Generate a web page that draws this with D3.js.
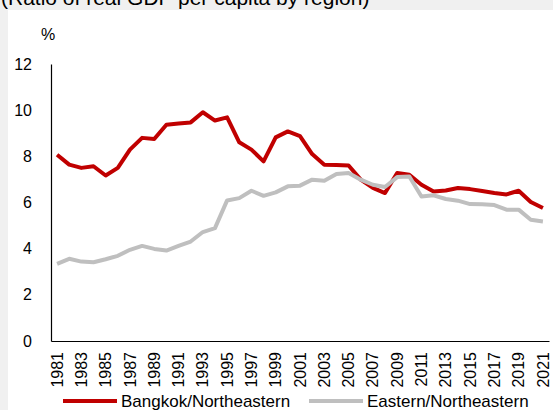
<!DOCTYPE html>
<html>
<head>
<meta charset="utf-8">
<script src="https://cdn.jsdelivr.net/npm/d3@7"></script>
<style>
  body { margin: 0; background: #f0f0f0; }
  svg { display: block; font-family: "Liberation Sans", Arial, sans-serif; }
</style>
</head>
<body>
<div id="chart"></div>
<script>
'use strict';

// data
var years = d3.range(1981, 2022);
var bangkok = [8.07, 7.64, 7.5, 7.57, 7.17, 7.5, 8.29, 8.8, 8.75, 9.37,
  9.42, 9.47, 9.91, 9.55, 9.69, 8.61, 8.29, 7.78, 8.82, 9.08,
  8.88, 8.1, 7.64, 7.62, 7.6, 6.99, 6.63, 6.41, 7.28, 7.2,
  6.77, 6.48, 6.52, 6.63, 6.58, 6.5, 6.41, 6.35, 6.51, 6.02, 5.76];
var eastern = [3.34, 3.56, 3.44, 3.41, 3.54, 3.69, 3.95, 4.12, 3.99, 3.92,
  4.12, 4.31, 4.72, 4.89, 6.09, 6.19, 6.51, 6.29, 6.44, 6.7,
  6.73, 6.99, 6.94, 7.23, 7.28, 6.99, 6.77, 6.67, 7.1, 7.13,
  6.26, 6.31, 6.15, 6.08, 5.93, 5.92, 5.89, 5.69, 5.69, 5.25, 5.18];
var yTicks = [0, 2, 4, 6, 8, 10, 12];
var seriesNames = ["Bangkok/Northeastern", "Eastern/Northeastern"];
var seriesColors = ["#c00000", "#bfbfbf"];

var W = 553, H = 410;
var margin = {top: 64, right: 4, bottom: 69, left: 51},
    width = W - margin.left - margin.right,
    height = H - margin.top - margin.bottom;

var svg = d3.select("#chart")
  .append("svg")
    .attr("width", W)
    .attr("height", H);

// grey frame with the clipped subtitle above the white panel
svg.append("rect")
  .attr("x", 8).attr("y", 10)
  .attr("width", W - 8).attr("height", H - 10)
  .attr("fill", "#fff");
svg.append("text")
  .attr("x", 1).attr("y", 5)
  .attr("font-size", 21)
  .attr("fill", "#000")
  .text("(Ratio of real GDP per capita by region)");

var g = svg.append("g")
  .attr("transform", "translate(" + margin.left + "," + margin.top + ")");

var x = d3.scaleBand()
  .domain(years)
  .range([0, width])
  .padding(0);

var y = d3.scaleLinear()
  .domain([0, 12])
  .range([height, 0]);

// Y axis
var yAxis = g.append("g")
  .call(d3.axisLeft(y).tickValues(yTicks).tickSize(0).tickPadding(19));
yAxis.select(".domain").attr("stroke", "#000").attr("stroke-width", 1.2);
yAxis.selectAll("text").attr("font-size", 16).attr("fill", "#000")
  .attr("font-family", "Liberation Sans, Arial, sans-serif");

g.append("text")
  .attr("x", -10).attr("y", -24)
  .attr("font-size", 16)
  .text("%");

// X axis
var xAxis = g.append("g")
  .attr("transform", "translate(0," + height + ")")
  .call(d3.axisBottom(x).tickSize(0)
    .tickFormat(function(d) { return (d - 1981) % 2 === 0 ? d : ""; }));
xAxis.select(".domain").attr("stroke", "#000").attr("stroke-width", 1.2);
xAxis.selectAll("text")
  .attr("font-size", 16)
  .attr("fill", "#000")
  .attr("font-family", "Liberation Sans, Arial, sans-serif")
  .attr("transform", "rotate(-90)")
  .attr("text-anchor", "end")
  .attr("x", -11)
  .attr("y", 0)
  .attr("dy", "0.35em");

// lines
var line = d3.line()
  .x(function(d, i) { return x(years[i]) + x.bandwidth() / 2; })
  .y(function(d) { return y(d); });

[bangkok, eastern].forEach(function(s, i) {
  g.append("path")
    .datum(s)
    .attr("fill", "none")
    .attr("stroke", seriesColors[i])
    .attr("stroke-width", 4)
    .attr("stroke-linejoin", "round")
    .attr("d", line);
});

// legend
var legendX = [63, 309];
seriesNames.forEach(function(name, i) {
  var lg = svg.append("g")
    .attr("transform", "translate(" + legendX[i] + ",401)");
  lg.append("line")
    .attr("x1", 0).attr("x2", 54)
    .attr("stroke", seriesColors[i])
    .attr("stroke-width", 4);
  lg.append("text")
    .attr("x", 58).attr("y", 6)
    .attr("font-size", 17)
    .text(name);
});
</script>
</body>
</html>
